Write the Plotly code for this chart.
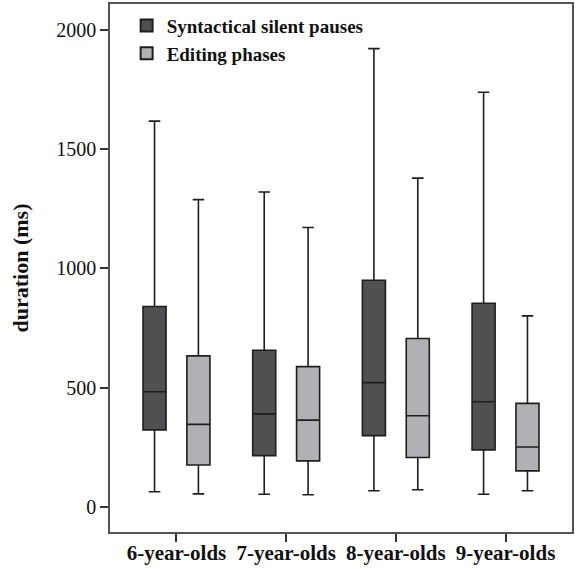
import plotly.graph_objects as go

groups = ["6-year-olds", "7-year-olds", "8-year-olds", "9-year-olds"]

# Syntactical silent pauses
syn_lower = [64, 53, 68, 53]
syn_q1 = [323, 215, 299, 239]
syn_median = [483, 390, 521, 441]
syn_q3 = [840, 657, 950, 854]
syn_upper = [1617, 1320, 1921, 1738]

# Editing phases
edit_lower = [55, 51, 72, 68]
edit_q1 = [176, 193, 207, 151]
edit_median = [346, 364, 382, 251]
edit_q3 = [633, 588, 706, 434]
edit_upper = [1288, 1171, 1378, 801]

yticks = [0, 500, 1000, 1500, 2000]

font_family = "Liberation Serif"

fig = go.Figure()
fig.add_trace(go.Box(
    name="Syntactical silent pauses",
    x=groups, q1=syn_q1, median=syn_median, q3=syn_q3,
    lowerfence=syn_lower, upperfence=syn_upper,
    fillcolor="#505052", line=dict(color="#1e1e1e", width=1.6),
    whiskerwidth=0.5, boxpoints=False,
))
fig.add_trace(go.Box(
    name="Editing phases",
    x=groups, q1=edit_q1, median=edit_median, q3=edit_q3,
    lowerfence=edit_lower, upperfence=edit_upper,
    fillcolor="#b1b1b5", line=dict(color="#1e1e1e", width=1.6),
    whiskerwidth=0.5, boxpoints=False,
))

fig.update_layout(
    width=579, height=569,
    margin=dict(l=110, r=7, t=4, b=37),
    paper_bgcolor="white", plot_bgcolor="white",
    boxmode="group", boxgap=0.2, boxgroupgap=0.475,
    font=dict(family=font_family, color="#111111"),
    showlegend=True,
    legend=dict(
        x=0.036, y=0.995, xanchor="left", yanchor="top",
        bgcolor="rgba(0,0,0,0)",
        font=dict(family=font_family, size=19, color="#111111", weight="bold"),
        tracegroupgap=0, itemsizing="constant",
    ),
)
fig.update_xaxes(
    range=[-0.606, 3.606],
    showline=True, linecolor="#555555", linewidth=1.5, mirror=True,
    ticks="outside", ticklen=8, tickcolor="#333333", tickwidth=1.5,
    ticklabelstandoff=-7,
    showgrid=False, zeroline=False, automargin=False,
    tickfont=dict(family=font_family, size=21, color="#111111", weight="bold"),
)
fig.update_yaxes(
    range=[-105, 2108],
    tickvals=yticks, ticktext=[str(v) for v in yticks],
    showline=True, linecolor="#555555", linewidth=1.5, mirror=True,
    ticks="outside", ticklen=8, tickcolor="#333333", tickwidth=1.5,
    showgrid=False, zeroline=False, automargin=False,
    tickfont=dict(family=font_family, size=20, color="#111111"),
    title=dict(text="duration (ms)", standoff=22,
               font=dict(family=font_family, size=22, color="#111111", weight="bold")),
)

fig.write_html("out.html", config={"displayModeBar": False},
               post_script="document.body.style.margin='0';")
